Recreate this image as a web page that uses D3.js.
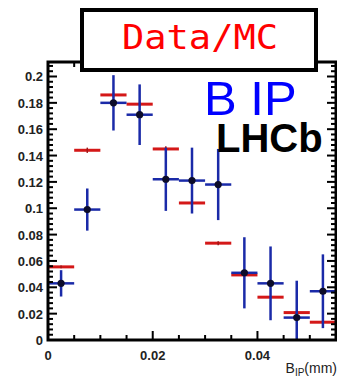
<!DOCTYPE html>
<html>
<head>
<meta charset="utf-8">
<script src="https://cdn.jsdelivr.net/npm/d3@7"></script>
<style>
  body { margin: 0; background: #fff; }
  .tick-label { font-family: "Liberation Sans Narrow", "Liberation Sans", Arial, sans-serif; font-weight: bold; font-size: 13px; fill: #222; }
</style>
</head>
<body>
<div id="chart"></div>
<script>
// bins of B IP (mm)
var binCenters = [0.0025, 0.0075, 0.0125, 0.0175, 0.0225, 0.0275, 0.0325, 0.0375, 0.0425, 0.0475, 0.0525];
var binHalf = 0.0025;
// data (blue)
var dataVals = [0.043, 0.099, 0.180, 0.171, 0.122, 0.121, 0.118, 0.051, 0.043, 0.017, 0.037];
var dataErr  = [0.010, 0.016, 0.021, 0.023, 0.024, 0.025, 0.027, 0.027, 0.028, 0.028, 0.028];
// MC (red)
var mcVals = [0.0555, 0.144, 0.186, 0.179, 0.145, 0.104, 0.0735, 0.0494, 0.0325, 0.0208, 0.0135];
var mcErr  = [0.001, 0.002, 0.002, 0.002, 0.002, 0.002, 0.0015, 0.0015, 0.001, 0.001, 0.001];
var xTickLabels = [0, 0.02, 0.04];
var yTickLabels = [0, 0.02, 0.04, 0.06, 0.08, 0.1, 0.12, 0.14, 0.16, 0.18, 0.2];

var W = 337, H = 376;
var fr = {left: 48, right: 336, top: 62, bottom: 340};

var svg = d3.select("#chart").append("svg")
  .attr("width", W)
  .attr("height", H);

var x = d3.scaleLinear().domain([0, 0.055]).range([fr.left, fr.right]);
var y = d3.scaleLinear().domain([0, 0.211]).range([fr.bottom, fr.top]);

svg.append("clipPath").attr("id", "clip")
  .append("rect")
  .attr("x", fr.left).attr("y", fr.top)
  .attr("width", fr.right - fr.left).attr("height", fr.bottom - fr.top);

var plot = svg.append("g").attr("clip-path", "url(#clip)");

// MC (red)
var mc = binCenters.map(function(c, i) { return {x: c, v: mcVals[i], e: mcErr[i]}; });
plot.selectAll(".mc-h")
  .data(mc)
  .enter()
  .append("line")
  .attr("class", "mc-h")
  .attr("x1", function(d) { return x(d.x - binHalf); })
  .attr("x2", function(d) { return x(d.x + binHalf); })
  .attr("y1", function(d) { return y(d.v); })
  .attr("y2", function(d) { return y(d.v); })
  .attr("stroke", "#d41818")
  .attr("stroke-width", 3);
plot.selectAll(".mc-v")
  .data(mc)
  .enter()
  .append("line")
  .attr("class", "mc-v")
  .attr("x1", function(d) { return x(d.x); })
  .attr("x2", function(d) { return x(d.x); })
  .attr("y1", function(d) { return y(d.v - d.e); })
  .attr("y2", function(d) { return y(d.v + d.e); })
  .attr("stroke", "#a01818")
  .attr("stroke-width", 1.5);

// data (blue)
var dat = binCenters.map(function(c, i) { return {x: c, v: dataVals[i], e: dataErr[i]}; });
plot.selectAll(".d-h")
  .data(dat)
  .enter()
  .append("line")
  .attr("class", "d-h")
  .attr("x1", function(d) { return x(d.x - binHalf); })
  .attr("x2", function(d) { return x(d.x + binHalf); })
  .attr("y1", function(d) { return y(d.v); })
  .attr("y2", function(d) { return y(d.v); })
  .attr("stroke", "#1a2aa8")
  .attr("stroke-width", 2.5);
plot.selectAll(".d-v")
  .data(dat)
  .enter()
  .append("line")
  .attr("class", "d-v")
  .attr("x1", function(d) { return x(d.x); })
  .attr("x2", function(d) { return x(d.x); })
  .attr("y1", function(d) { return y(d.v - d.e); })
  .attr("y2", function(d) { return y(d.v + d.e); })
  .attr("stroke", "#1a2aa8")
  .attr("stroke-width", 2.5);
plot.selectAll(".d-pt")
  .data(dat)
  .enter()
  .append("circle")
  .attr("class", "d-pt")
  .attr("cx", function(d) { return x(d.x); })
  .attr("cy", function(d) { return y(d.v); })
  .attr("r", 3.6)
  .attr("fill", "#0c0c2a");

// ticks (ROOT style, inside frame, mirrored)
var yMinor = d3.range(0, 0.2101, 0.004);
var xMinor = d3.range(0, 0.0551, 0.005);
var ticks = svg.append("g").attr("stroke", "#000").attr("stroke-width", 2);
yMinor.forEach(function(v, i) {
  var len = (i % 5 === 0) ? 9 : 5;
  ticks.append("line").attr("x1", fr.left).attr("x2", fr.left + len).attr("y1", y(v)).attr("y2", y(v));
  ticks.append("line").attr("x1", fr.right).attr("x2", fr.right - len).attr("y1", y(v)).attr("y2", y(v));
});
xMinor.forEach(function(v, i) {
  var len = (i % 4 === 0) ? 9 : 5;
  ticks.append("line").attr("x1", x(v)).attr("x2", x(v)).attr("y1", fr.bottom).attr("y2", fr.bottom - len);
  ticks.append("line").attr("x1", x(v)).attr("x2", x(v)).attr("y1", fr.top).attr("y2", fr.top + len);
});

// frame
svg.append("rect")
  .attr("x", fr.left).attr("y", fr.top)
  .attr("width", fr.right - fr.left).attr("height", fr.bottom - fr.top)
  .attr("fill", "none")
  .attr("stroke", "#000")
  .attr("stroke-width", 3);

// tick labels
svg.selectAll(".ylab")
  .data(yTickLabels)
  .enter()
  .append("text")
  .attr("class", "tick-label")
  .attr("x", 43)
  .attr("y", function(d) { return y(d) + 5; })
  .attr("text-anchor", "end")
  .text(function(d) { return d3.format("~g")(d); });
svg.selectAll(".xlab")
  .data(xTickLabels)
  .enter()
  .append("text")
  .attr("class", "tick-label")
  .attr("x", function(d) { return x(d); })
  .attr("y", 360)
  .attr("text-anchor", "middle")
  .text(function(d) { return d3.format("~g")(d); });

// axis title
var xt = svg.append("text")
  .attr("class", "tick-label")
  .attr("x", 337)
  .attr("y", 373)
  .attr("text-anchor", "end")
  .style("font-weight", "normal")
  .style("font-size", "14px");
xt.append("tspan").text("B");
xt.append("tspan").attr("dy", 3).style("font-size", "10px").text("IP");
xt.append("tspan").attr("dy", -3).text("(mm)");

// header box
svg.append("rect")
  .attr("x", 82).attr("y", 10)
  .attr("width", 234).attr("height", 60)
  .attr("fill", "#fff")
  .attr("stroke", "#000")
  .attr("stroke-width", 4);
svg.append("text")
  .attr("x", 200)
  .attr("y", 49)
  .attr("text-anchor", "middle")
  .attr("textLength", 156)
  .attr("lengthAdjust", "spacingAndGlyphs")
  .style("font-family", "'DejaVu Sans Mono', monospace")
  .style("font-size", "33px")
  .attr("fill", "#ff0000")
  .text("Data/MC");

svg.append("text")
  .attr("x", 204)
  .attr("y", 115)
  .style("font-family", "'Liberation Sans', Arial, sans-serif")
  .style("font-size", "49px")
  .attr("fill", "#0000ff")
  .text("B IP");

svg.append("text")
  .attr("x", 216)
  .attr("y", 152)
  .style("font-family", "'Liberation Sans', Arial, sans-serif")
  .style("font-weight", "bold")
  .style("font-size", "40px")
  .attr("fill", "#000")
  .text("LHCb");
</script>
</body>
</html>
